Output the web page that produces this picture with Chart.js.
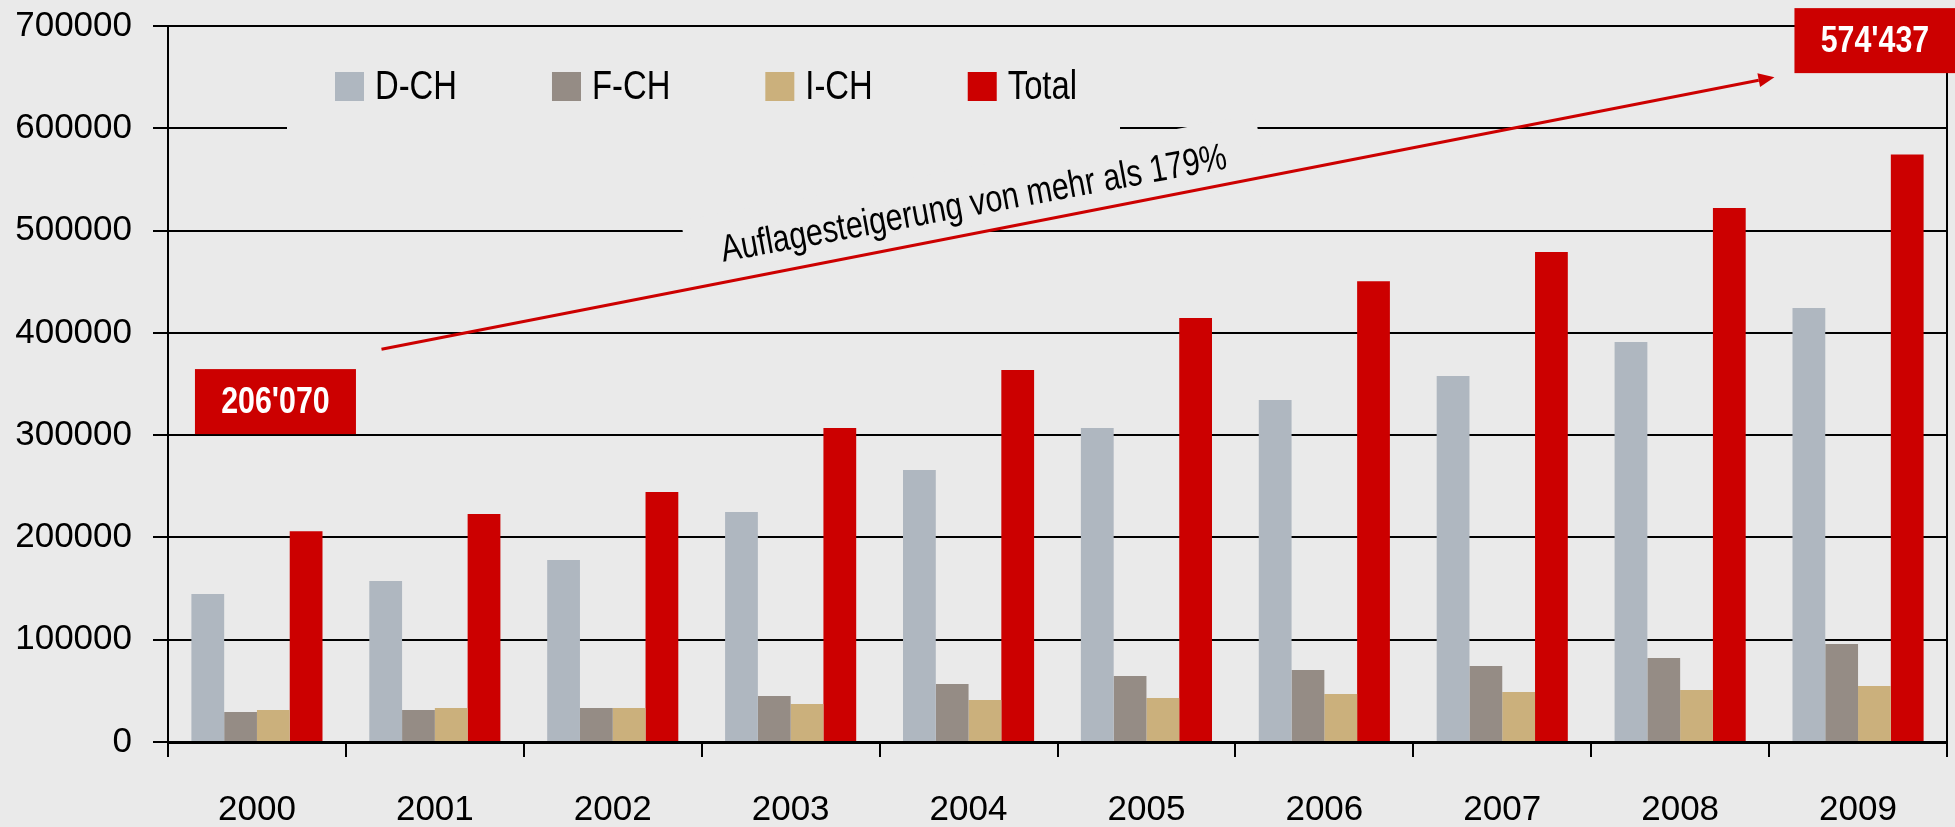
<!DOCTYPE html>
<html>
<head>
<meta charset="utf-8">
<script src="https://cdn.jsdelivr.net/npm/chart.js@4/dist/chart.umd.min.js"></script>
<style>
  html, body { margin: 0; padding: 0; background: #eaeaea; }
  #wrap { width: 1955px; height: 827px; }
</style>
</head>
<body>
<div id="wrap"><canvas id="chart" width="1955" height="827"></canvas></div>
<script>
// data
const years = ['2000', '2001', '2002', '2003', '2004', '2005', '2006', '2007', '2008', '2009'];
const dch = [144700, 157400, 177900, 224800, 265900, 306900, 334300, 357800, 391000, 424200];
const fch = [29300, 31300, 33200, 45000, 56700, 64500, 70400, 74300, 82100, 95800];
const ich = [31300, 33200, 33200, 37100, 41100, 43000, 46900, 48900, 50800, 54700];
const total = [206070, 222900, 244400, 306900, 363600, 414500, 450500, 479000, 522000, 574437];
const yTicks = [0, 100000, 200000, 300000, 400000, 500000, 600000, 700000];

const FONT = "'Liberation Sans', Arial, sans-serif";
const NARROW = 0.82; // squeeze for the condensed look of the original
const RED = '#cc0000';
const BG = '#eaeaea';

// annotations, placed in data space (category index, value)
const arrowFrom = [0.70, 384000];
const arrowTo = [8.53, 650000];
const startLabel = { text: "206'070", x: 0.104, y: 332800 };
const endLabel = { text: "574'437", x: 9.095, y: 685700 };
const note = { text: 'Auflagesteigerung von mehr als 179%', x: 4.041, y: 515200, angle: -10.5 };

function px(chart, p) {
  return [chart.scales.x.getPixelForValue(p[0]), chart.scales.y.getPixelForValue(p[1])];
}

function narrowText(ctx, text, x, y, k) {
  ctx.save();
  ctx.translate(x, y);
  ctx.scale(k || NARROW, 1);
  ctx.fillText(text, 0, 0);
  ctx.restore();
}

function legendItems(chart, ctx) {
  ctx.save();
  ctx.font = '40px ' + FONT;
  let x = 335;
  const items = chart.data.datasets.map(ds => {
    const w = ctx.measureText(ds.label).width * NARROW;
    const item = { x: x, label: ds.label, color: ds.backgroundColor, end: x + 40 + w };
    x = item.end + 95;
    return item;
  });
  ctx.restore();
  return items;
}

const decor = {
  id: 'decor',
  beforeDraw(chart) {
    const ctx = chart.ctx;
    ctx.save();
    ctx.fillStyle = BG;
    ctx.fillRect(0, 0, chart.width, chart.height);
    ctx.restore();
  },
  beforeDatasetsDraw(chart) {
    // boxes behind legend and note hide parts of the grid
    const ctx = chart.ctx;
    ctx.save();
    const items = legendItems(chart, ctx);
    ctx.fillStyle = BG;
    ctx.fillRect(287, 40, items[items.length - 1].end + 43 - 287, 100);
    const [cx, cy] = px(chart, [4.03, 529800]);
    ctx.translate(cx, cy);
    ctx.rotate(note.angle * Math.PI / 180);
    ctx.fillRect(-292, -33, 584, 66);
    ctx.restore();
  },
  afterDraw(chart) {
    const ctx = chart.ctx;
    const area = chart.chartArea;
    ctx.save();

    // right border
    ctx.strokeStyle = '#000';
    ctx.lineWidth = 2;
    ctx.beginPath();
    ctx.moveTo(area.right, area.top);
    ctx.lineTo(area.right, area.bottom);
    ctx.stroke();

    // legend
    const items = legendItems(chart, ctx);
    ctx.font = '40px ' + FONT;
    ctx.textBaseline = 'middle';
    ctx.textAlign = 'left';
    items.forEach(it => {
      ctx.fillStyle = it.color;
      ctx.fillRect(it.x, 72, 29, 29);
      ctx.fillStyle = '#000';
      narrowText(ctx, it.label, it.x + 40, 88);
    });

    // rotated note
    const [nx, ny] = px(chart, [note.x, note.y]);
    ctx.save();
    ctx.translate(nx, ny);
    ctx.rotate(note.angle * Math.PI / 180);
    ctx.font = '38px ' + FONT;
    ctx.textAlign = 'center';
    ctx.textBaseline = 'alphabetic';
    ctx.fillStyle = '#000';
    narrowText(ctx, note.text, 0, 0, 0.8);
    ctx.restore();

    // arrow
    const [x0, y0] = px(chart, arrowFrom);
    const [x1, y1] = px(chart, arrowTo);
    const ang = Math.atan2(y1 - y0, x1 - x0);
    const head = 16;
    ctx.strokeStyle = RED;
    ctx.fillStyle = RED;
    ctx.lineWidth = 3;
    ctx.beginPath();
    ctx.moveTo(x0, y0);
    ctx.lineTo(x1 - head * Math.cos(ang), y1 - head * Math.sin(ang));
    ctx.stroke();
    ctx.beginPath();
    ctx.moveTo(x1, y1);
    ctx.lineTo(x1 - head * Math.cos(ang) + 7 * Math.sin(ang), y1 - head * Math.sin(ang) - 7 * Math.cos(ang));
    ctx.lineTo(x1 - head * Math.cos(ang) - 7 * Math.sin(ang), y1 - head * Math.sin(ang) + 7 * Math.cos(ang));
    ctx.closePath();
    ctx.fill();

    // value boxes
    ctx.font = 'bold 37px ' + FONT;
    ctx.textAlign = 'center';
    ctx.textBaseline = 'middle';
    [startLabel, endLabel].forEach(l => {
      const [bx, by] = px(chart, [l.x, l.y]);
      ctx.fillStyle = RED;
      ctx.fillRect(bx - 80.5, by - 32.5, 161, 65);
      ctx.fillStyle = '#fff';
      narrowText(ctx, l.text, bx, by + 1);
    });

    ctx.restore();
  }
};

new Chart(document.getElementById('chart'), {
  type: 'bar',
  data: {
    labels: years,
    datasets: [
      { label: 'D-CH', data: dch, backgroundColor: '#afb7c0' },
      { label: 'F-CH', data: fch, backgroundColor: '#958c85' },
      { label: 'I-CH', data: ich, backgroundColor: '#cbb07c' },
      { label: 'Total', data: total, backgroundColor: RED }
    ]
  },
  options: {
    responsive: false,
    animation: false,
    layout: { padding: { left: 0, right: 8, top: 26, bottom: 0 } },
    datasets: { bar: { categoryPercentage: 0.737, barPercentage: 1.0 } },
    plugins: {
      legend: { display: false },
      tooltip: { enabled: false }
    },
    scales: {
      x: {
        grid: { display: true, drawOnChartArea: false, drawTicks: true, tickLength: 15, color: '#000', lineWidth: 2, offset: true },
        border: { display: true, color: '#000', width: 3 },
        ticks: { color: '#000', font: { family: FONT, size: 35 }, padding: 32 },
        afterFit(scale) { scale.height = 85; scale.paddingLeft = 0; scale.paddingRight = 0; }
      },
      y: {
        min: 0,
        max: 700000,
        afterBuildTicks(scale) { scale.ticks = yTicks.map(v => ({ value: v })); },
        grid: { color: '#000', lineWidth: 2, tickLength: 15 },
        border: { display: true, color: '#000', width: 2 },
        ticks: { color: '#000', font: { family: FONT, size: 35 }, padding: 21, callback: v => String(v) },
        afterFit(scale) { scale.width = 168; scale.paddingTop = 0; scale.paddingBottom = 0; }
      }
    }
  },
  plugins: [decor]
});
</script>
</body>
</html>
